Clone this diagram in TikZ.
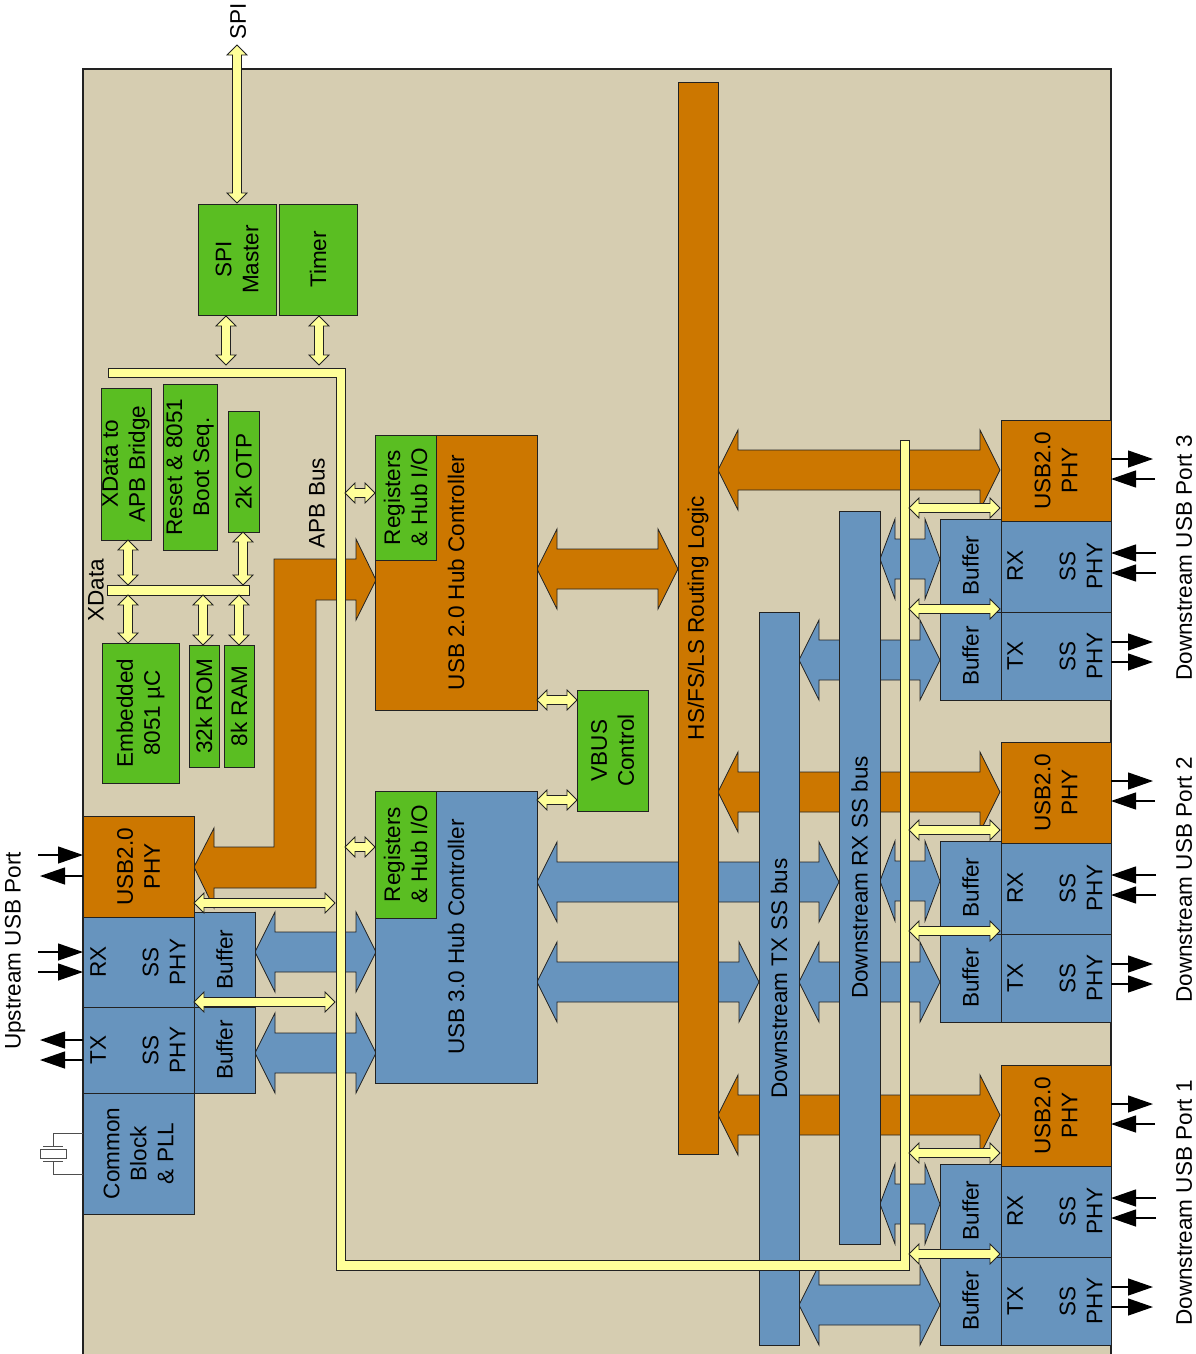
\documentclass[tikz,border=0pt]{standalone}
\usepackage{fontspec}
\setmainfont{Liberation Sans}
\usetikzlibrary{arrows.meta}
\definecolor{bg}{HTML}{D6CDB1}
\definecolor{org}{HTML}{CC7700}
\definecolor{blu}{HTML}{6794BE}
\definecolor{grn}{HTML}{5ABE22}
\definecolor{ylw}{HTML}{FFFF99}
\definecolor{edge}{HTML}{222222}
\newcommand\lbl{\fontsize{16.9pt}{20.25pt}\selectfont}
\tikzset{
 boxst/.style={draw=edge, line width=0.75pt, rotate=90, inner sep=0pt, align=center, font=\lbl},
 txt/.style={rotate=90, inner sep=0pt, align=center, font=\lbl},
 yst/.style={fill=ylw, draw=edge, line width=0.6pt},
 ost/.style={fill=org, draw=edge, line width=0.6pt},
 bst/.style={fill=blu, draw=edge, line width=0.6pt},
 parr/.style={draw=black, line width=0.9pt, -{Triangle[length=18.75pt, width=12.75pt]}},
 xtal/.style={draw=edge!80, line width=0.7pt},
}
% box node: name, fill, x1, y1, x2, y2, text
\newcommand\bxn[7]{%
 \pgfmathsetmacro\mybw{((#5)-(#3))*0.75}%
 \pgfmathsetmacro\mybh{((#6)-(#4))*0.75}%
 \node[boxst, fill=#2, minimum width=\mybh pt, minimum height=\mybw pt] (#1) at ({((#3)+(#5))/2},{((#4)+(#6))/2}) {#7};}
% horizontal double arrow: x1 x2 y halfshaft halfhead headlen style
\newcommand\dblH[7]{%
 \filldraw[#7] ({#1},{#3}) -- ({(#1)+(#6)},{(#3)-(#5)}) -- ({(#1)+(#6)},{(#3)-(#4)}) -- ({(#2)-(#6)},{(#3)-(#4)}) -- ({(#2)-(#6)},{(#3)-(#5)}) -- ({#2},{#3}) -- ({(#2)-(#6)},{(#3)+(#5)}) -- ({(#2)-(#6)},{(#3)+(#4)}) -- ({(#1)+(#6)},{(#3)+(#4)}) -- ({(#1)+(#6)},{(#3)+(#5)}) -- cycle;}
% vertical double arrow: x y1 y2 halfshaft halfhead headlen style
\newcommand\dblV[7]{%
 \filldraw[#7] ({#1},{#2}) -- ({(#1)+(#5)},{(#2)+(#6)}) -- ({(#1)+(#4)},{(#2)+(#6)}) -- ({(#1)+(#4)},{(#3)-(#6)}) -- ({(#1)+(#5)},{(#3)-(#6)}) -- ({#1},{#3}) -- ({(#1)-(#5)},{(#3)-(#6)}) -- ({(#1)-(#4)},{(#3)-(#6)}) -- ({(#1)-(#4)},{(#2)+(#6)}) -- ({(#1)-(#5)},{(#2)+(#6)}) -- cycle;}
\newcommand\myYH[3]{\dblH{#1}{#2}{#3}{4.5}{10}{10}{yst}}
\newcommand\myYV[3]{\dblV{#1}{#2}{#3}{4.5}{10}{10}{yst}}
\newcommand\bigA[4]{\dblH{#1}{#2}{#3}{20}{40}{20}{#4}}
\begin{document}
\begin{tikzpicture}[x=0.75pt,y=-0.75pt]
\useasboundingbox (0,0) rectangle (1196,1354);
\fill[bg] (83,69) rectangle (1111,1354);
\draw[edge, line width=0.8pt] (83,1354) -- (83,69) -- (1111,69) -- (1111,1354);

% ---- blue bus arrows
\bigA{537}{839}{882}{bst}
\bigA{537}{759}{982}{bst}
\bigA{255}{376}{952}{bst}
\bigA{255}{376}{1053}{bst}
\foreach \o in {0,322,645}{
 \dblH{880}{940}{559+\o}{20}{40}{15}{bst}
 \bigA{799}{940}{660+\o}{bst}
}
% ---- orange arrows
\bigA{537}{678}{569}{ost}
\foreach \o in {0,322,645}{\bigA{718}{1000}{470+\o}{ost}}
\filldraw[ost] (194,867) -- (214,828) -- (214,847) -- (274,847) -- (274,559) -- (356,559) -- (356,539) -- (376,580) -- (356,620) -- (356,600) -- (316,600) -- (316,888) -- (214,888) -- (214,908) -- cycle;

% ---- buses
\bxn{route}{org}{678}{82}{718}{1154}{HS/FS/LS Routing Logic}
\bxn{txbus}{blu}{759}{612}{799}{1345}{Downstream TX SS bus}
\bxn{rxbus}{blu}{839}{511}{880}{1244}{Downstream RX SS bus}

% ---- blocks
\bxn{spim}{grn}{198}{204}{276}{315}{SPI\\Master}
\bxn{timer}{grn}{279}{204}{357}{315}{Timer}
\bxn{bridge}{grn}{101}{388}{151}{540}{XData to\\APB Bridge}
\bxn{reset}{grn}{163}{384}{217}{550}{Reset \& 8051\\Boot Seq.}
\bxn{otp}{grn}{228}{411}{259}{532}{2k OTP}
\bxn{mcu}{grn}{102}{643}{179}{783}{Embedded\\8051 µC}
\bxn{rom}{grn}{189}{645}{219}{767}{32k ROM}
\bxn{ram}{grn}{224}{645}{254}{767}{8k RAM}
\bxn{hubtwo}{org}{375}{435}{537}{710}{USB 2.0 Hub Controller}
\bxn{regtwo}{grn}{375}{435}{436}{560}{Registers\\\& Hub I/O}
\bxn{hubthree}{blu}{375}{791}{537}{1083}{USB 3.0 Hub Controller}
\bxn{regthree}{grn}{375}{791}{436}{918}{Registers\\\& Hub I/O}
\bxn{vbus}{grn}{577}{690}{648}{811}{VBUS\\Control}
\bxn{uphy}{org}{83}{816}{194}{917}{USB2.0\\PHY}
\bxn{urx}{blu}{83}{917}{194}{1007}{}
\bxn{utx}{blu}{83}{1007}{194}{1093}{}
\bxn{ucommon}{blu}{83}{1093}{194}{1214}{Common\\Block\\\& PLL}
\bxn{ubufrx}{blu}{194}{912}{255}{1007}{Buffer}
\bxn{ubuftx}{blu}{194}{1007}{255}{1093}{Buffer}
\node[txt] (urxl) at (98,962) {RX};
\node[txt] (urxp) at (164,962) {SS\\PHY};
\node[txt] (utxl) at (98,1050) {TX};
\node[txt] (utxp) at (164,1050) {SS\\PHY};

\foreach \o/\pn in {0/3,322/2,645/1}{
 \bxn{dphy\pn}{org}{1001}{420+\o}{1111}{521+\o}{USB2.0\\PHY}
 \bxn{drx\pn}{blu}{1001}{521+\o}{1111}{612+\o}{}
 \bxn{dtx\pn}{blu}{1001}{612+\o}{1111}{700+\o}{}
 \bxn{dbrx\pn}{blu}{940}{519+\o}{1001}{612+\o}{Buffer}
 \bxn{dbtx\pn}{blu}{940}{612+\o}{1001}{700+\o}{Buffer}
 \node[txt] (drxl\pn) at (1015,566+\o) {RX};
 \node[txt] (drxp\pn) at (1081,566+\o) {SS\\PHY};
 \node[txt] (dtxl\pn) at (1015,656+\o) {TX};
 \node[txt] (dtxp\pn) at (1081,656+\o) {SS\\PHY};
 \node[txt] (dpl\pn) at (1184,558+\o) {Downstream USB Port \pn};
}

% ---- yellow buses and arrows
\filldraw[yst] (108,368) -- (345,368) -- (345,1260) -- (900,1260) -- (900,440) -- (909,440) -- (909,1270) -- (336,1270) -- (336,377) -- (108,377) -- cycle;
\filldraw[yst] (107,585) rectangle (249,595);
\myYV{237}{45}{203}
\myYV{226}{316}{365}
\myYV{319}{316}{365}
\myYV{128}{540}{585}
\myYV{243}{532}{585}
\myYV{128}{595}{643}
\myYV{203}{595}{645}
\myYV{239}{595}{645}
\myYH{345}{375}{493}
\myYH{345}{375}{847}
\myYH{537}{577}{700}
\myYH{537}{577}{800}
\myYH{194}{335}{903}
\myYH{194}{335}{1002}
\foreach \o in {0,322,645}{
 \myYH{909}{1000}{508+\o}
 \myYH{909}{1000}{609+\o}
}

% ---- external signal arrows
\draw[parr] (38,855) -- (83,855);
\draw[parr] (83,876) -- (40,876);
\draw[parr] (38,952) -- (83,952);
\draw[parr] (38,972) -- (83,972);
\draw[parr] (83,1040) -- (40,1040);
\draw[parr] (83,1060) -- (40,1060);
\foreach \o in {0,322,645}{
 \draw[parr] (1111,459+\o) -- (1153,459+\o);
 \draw[parr] (1155,479+\o) -- (1111,479+\o);
 \draw[parr] (1156,553+\o) -- (1111,553+\o);
 \draw[parr] (1156,573+\o) -- (1111,573+\o);
 \draw[parr] (1111,642+\o) -- (1153,642+\o);
 \draw[parr] (1111,662+\o) -- (1153,662+\o);
}

% ---- crystal
\draw[xtal] (83,1133) -- (53,1133) -- (53,1146);
\draw[xtal] (43,1146) -- (63,1146);
\draw[xtal] (40,1149) rectangle (66,1158);
\draw[xtal] (43,1161) -- (63,1161);
\draw[xtal] (53,1161) -- (53,1174) -- (83,1174);

% ---- labels
\node[txt] (spil) at (238,21) {SPI};
\node[txt] (apbl) at (317,503) {APB Bus};
\node[txt] (xdl) at (96,590) {XData};
\node[txt] (upl) at (15,951) {Upstream USB Port};
\end{tikzpicture}
\end{document}
